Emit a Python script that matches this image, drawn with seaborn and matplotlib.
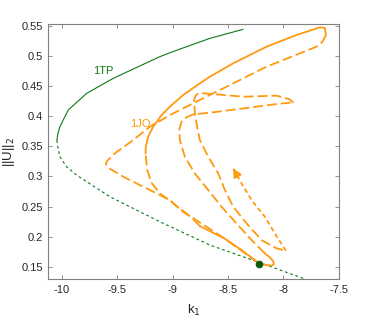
import numpy as np
import pandas as pd
import seaborn as sns
import matplotlib
matplotlib.use('Agg')
import matplotlib.pyplot as plt

# 1TP branch (stable = solid, unstable = dashed)
tp_stable_k1 = [-10.045, -10.036, -10.018, -9.943, -9.777, -9.537, -9.296, -9.116, -8.995, -8.664, -8.364]
tp_stable_u = [0.360, 0.371, 0.3826, 0.4102, 0.4379, 0.4628, 0.4835, 0.4988, 0.5075, 0.5293, 0.5443]
tp_unstable_k1 = [-10.045, -10.035, -10.018, -9.958, -9.868, -9.567, -9.116, -8.664, -8.219, -7.822, -7.747]
tp_unstable_u = [0.360, 0.347, 0.3327, 0.3161, 0.3023, 0.2663, 0.2248, 0.1860, 0.1572, 0.1306, 0.1251]

# branch point
bp_k1 = [-8.219]
bp_u = [0.1545]

# 1JO branch, piece by piece
jo_a_k1 = [-8.219, -8.378, -8.529, -8.755]
jo_a_u = [0.1555, 0.1777, 0.1965, 0.2176]
jo_b_k1 = [-8.755, -8.830, -8.920, -9.010, -9.116, -9.191, -9.230, -9.245]
jo_b_u = [0.2176, 0.2319, 0.2430, 0.2580, 0.2718, 0.2895, 0.3106, 0.3383]
jo_c_k1 = [-9.245, -9.242, -9.221, -9.176, -9.100, -9.025, -8.905, -8.755, -8.664, -8.454,
           -8.153, -7.882, -7.671, -7.626, -7.617]
jo_c_u = [0.3383, 0.3493, 0.3659, 0.3826, 0.4019, 0.4158, 0.4352, 0.4545, 0.4656, 0.4878,
          0.5154, 0.5348, 0.5476, 0.5465, 0.5348]
jo_d_k1 = [-7.617, -7.647, -7.702, -7.852, -8.153, -8.454, -8.755, -8.995, -9.206, -9.356,
           -9.522, -9.591, -9.603, -9.582, -9.522, -9.446, -9.326, -9.206, -9.025, -8.965,
           -8.845, -8.694, -8.529, -8.378, -8.219]
jo_d_u = [0.5348, 0.5238, 0.5154, 0.5044, 0.4822, 0.4545, 0.4269, 0.4047, 0.3826, 0.3604,
          0.3383, 0.3261, 0.3205, 0.3145, 0.3078, 0.2995, 0.2884, 0.2774, 0.2607, 0.2508,
          0.2342, 0.2164, 0.1965, 0.1766, 0.1555]
jo_e_k1 = [-8.219, -8.153, -8.108, -8.087, -8.093, -8.123, -8.168]
jo_e_u = [0.1555, 0.1528, 0.1517, 0.1539, 0.1594, 0.1655, 0.1721]
jo_f_k1 = [-8.168, -8.288, -8.424, -8.559, -8.679, -8.800, -8.890, -8.935, -8.941, -8.920,
           -8.875, -8.815, -8.664, -8.363, -8.063, -7.942, -7.906, -7.942, -7.972, -8.063,
           -8.363, -8.634, -8.755, -8.791, -8.806, -8.800, -8.779, -8.755, -8.679, -8.589,
           -8.529, -8.454, -8.333, -8.198, -8.063, -7.978]
jo_f_u = [0.1721, 0.1943, 0.2220, 0.2497, 0.2774, 0.3050, 0.3327, 0.3604, 0.3770, 0.3909,
          0.3981, 0.4030, 0.4058, 0.4130, 0.4202, 0.4224, 0.4213, 0.4280, 0.4296, 0.4341,
          0.4324, 0.4368, 0.4385, 0.4352, 0.4269, 0.4047, 0.3826, 0.3604, 0.3327, 0.3050,
          0.2774, 0.2497, 0.2220, 0.1943, 0.1805, 0.1766]
jo_g_k1 = [-7.978, -8.078, -8.168, -8.288, -8.378, -8.454]
jo_g_u = [0.1766, 0.2054, 0.2331, 0.2607, 0.2884, 0.3133]

xticks = [-10, -9.5, -9, -8.5, -8, -7.5]
xticklabels = ['-10', '-9.5', '-9', '-8.5', '-8', '-7.5']
yticks = [0.15, 0.2, 0.25, 0.3, 0.35, 0.4, 0.45, 0.5, 0.55]
yticklabels = ['0.15', '0.2', '0.25', '0.3', '0.35', '0.4', '0.45', '0.5', '0.55']

green = '#0b7a12'
orange = '#ff9a10'

sns.set_style('ticks')
plt.rcParams['font.family'] = ['Liberation Sans', 'DejaVu Sans']
plt.rcParams['axes.unicode_minus'] = False

fig = plt.figure(figsize=(3.74, 3.31), dpi=100)
ax = fig.add_axes([0.129, 0.156, 0.777, 0.7705])


def draw(k1, u, color, lw, ls):
    df = pd.DataFrame({'k1': k1, 'u': u})
    sns.lineplot(data=df, x='k1', y='u', sort=False, estimator=None,
                 color=color, linewidth=lw, linestyle=ls, ax=ax)


# 1TP
draw(tp_stable_k1, tp_stable_u, green, 0.8, '-')
draw(tp_unstable_k1, tp_unstable_u, green, 0.8, (0, (2.5, 2.5)))

# 1JO
dash = (0, (5.5, 2.2))
lw = 1.3
draw(jo_a_k1, jo_a_u, orange, lw, '-')
draw(jo_b_k1, jo_b_u, orange, lw, dash)
draw(jo_c_k1, jo_c_u, orange, lw, '-')
draw(jo_d_k1, jo_d_u, orange, lw, dash)
draw(jo_e_k1, jo_e_u, orange, lw, '-')
draw(jo_f_k1, jo_f_u, orange, lw, dash)
draw(jo_g_k1, jo_g_u, orange, lw, (0, (2.5, 1.8)))

# arrow head at the end of the last piece
tip = np.array([jo_g_k1[-1], jo_g_u[-1]])
prev = np.array([jo_g_k1[-2], jo_g_u[-2]])
ax.annotate('', xy=tip, xytext=tip - 0.35 * (tip - prev),
            arrowprops=dict(arrowstyle='-|>', color=orange, lw=1.2,
                            mutation_scale=13, shrinkA=0, shrinkB=0))

sns.scatterplot(x=bp_k1, y=bp_u, color='#0a5a0a', s=22, edgecolor='#0a5a0a',
                linewidth=0.8, zorder=5, ax=ax)

ax.text(-9.627, 0.475, '1TP', color=green, fontsize=8, ha='center', va='center')
ax.text(-9.296, 0.387, '1JO', color=orange, fontsize=8, ha='center', va='center')

ax.set_xlim(-10.123, -7.5)
ax.set_ylim(0.129, 0.5526)
ax.set_xticks(xticks)
ax.set_xticklabels(xticklabels)
ax.set_yticks(yticks)
ax.set_yticklabels(yticklabels)
ax.set_xlabel('k$_1$', fontsize=9.5, color='#262626', labelpad=6)
ax.set_ylabel('||U||$_2$', fontsize=9.5, color='#262626', labelpad=3)

ax.tick_params(direction='in', top=True, right=True, length=3, width=0.6,
               color='#808080', labelsize=8, labelcolor='#262626', pad=4)
for s in ax.spines.values():
    s.set_visible(True)
    s.set_color('#808080')
    s.set_linewidth(0.8)

fig.savefig('out.png', dpi=100)
